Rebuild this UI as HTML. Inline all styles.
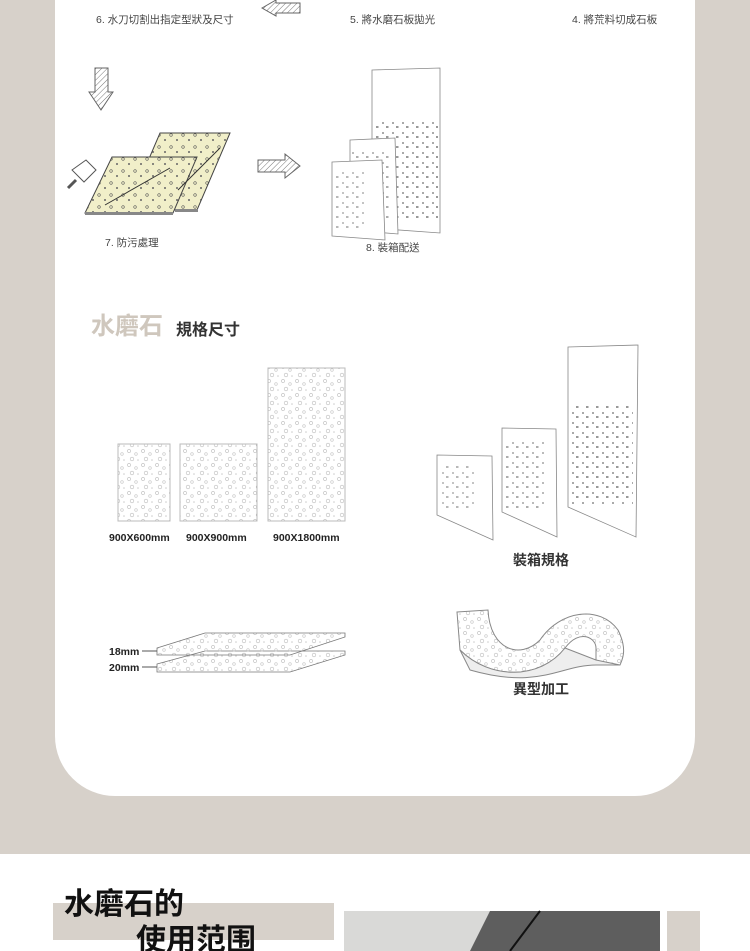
<!DOCTYPE html>
<html><head><meta charset="utf-8"><style>
html,body{margin:0;padding:0;}
body{width:750px;height:951px;position:relative;overflow:hidden;background:#d7d1ca;font-family:"Liberation Sans","Noto Sans CJK TC",sans-serif;}
svg{position:absolute;left:0;top:0}
</style></head><body>
<svg width="750" height="951" viewBox="0 0 750 951" xmlns="http://www.w3.org/2000/svg" font-family="Liberation Sans, Noto Sans CJK TC, sans-serif">
<defs>
<pattern id="tz" width="14" height="14" patternUnits="userSpaceOnUse">
<circle cx="3" cy="3" r="1.6" fill="none" stroke="#bbb" stroke-width="0.6"/>
<circle cx="10" cy="6" r="1.3" fill="none" stroke="#c4c4c4" stroke-width="0.6"/>
<circle cx="6" cy="11" r="1.8" fill="none" stroke="#bbb" stroke-width="0.6"/>
<circle cx="12" cy="12" r="0.8" fill="#ccc"/>
</pattern>
<pattern id="yz" width="12" height="12" patternUnits="userSpaceOnUse">
<rect width="12" height="12" fill="#f1efc9"/>
<circle cx="3" cy="3" r="1.3" fill="none" stroke="#555" stroke-width="0.6"/>
<circle cx="9" cy="8" r="1" fill="#666"/>
</pattern>
<pattern id="cz" width="10" height="10" patternUnits="userSpaceOnUse">
<rect x="2" y="2" width="2" height="2" fill="#aaa"/>
<rect x="6" y="6" width="2.5" height="2" fill="#999"/>
</pattern>
<pattern id="hz" width="4" height="4" patternUnits="userSpaceOnUse" patternTransform="rotate(45)">
<rect width="4" height="4" fill="#fff"/><line x1="0" y1="0" x2="0" y2="4" stroke="#777" stroke-width="1"/>
</pattern>
</defs>
<path d="M55 0 H695 V736 A60 60 0 0 1 635 796 H115 A60 60 0 0 1 55 736 Z" fill="#fff"/>
<rect x="0" y="854" width="750" height="97" fill="#fff"/>

<g font-size="10.5" fill="#444">
<text x="96" y="23">6. 水刀切割出指定型狀及尺寸</text>
<text x="350" y="23">5. 將水磨石板拋光</text>
<text x="572" y="23">4. 將荒料切成石板</text>
</g>
<path d="M262 8 L276 0 L276 3 L300 3 L300 13 L276 13 L276 16 Z" fill="url(#hz)" stroke="#666"/>
<path d="M95 68 H108 V92 H113 L101 110 L89 92 H95 Z" fill="url(#hz)" stroke="#666"/>
<!-- yellow slabs -->
<path d="M160 133 L230 133 L197 210 L127 210 Z" fill="url(#yz)" stroke="#444"/>
<rect x="175" y="209" width="23" height="3" fill="#888"/>
<path d="M112 157 L197 157 L173 213 L85 213 Z" fill="url(#yz)" stroke="#444"/>
<rect x="85" y="212" width="88" height="3" fill="#888"/>
<line x1="105" y1="205" x2="170" y2="168" stroke="#333"/>
<line x1="178" y1="190" x2="220" y2="148" stroke="#333"/>
<!-- brush -->
<path d="M72 170 L86 160 L96 170 L84 182 Z" fill="#fff" stroke="#555"/>
<path d="M76 180 L68 188" stroke="#555" stroke-width="3"/>
<path d="M258 160 H285 V154 L300 166 L285 178 V172 H258 Z" fill="url(#hz)" stroke="#666"/>
<g stroke="#888" stroke-width="0.8">
<path d="M372 70 L440 68 L440 233 L372 228 Z" fill="#fff"/>
<rect x="374" y="120" width="64" height="100" fill="url(#cz)" stroke="none"/>
<path d="M350 140 L395 138 L398 234 L350 230 Z" fill="#fff"/>
<rect x="352" y="150" width="40" height="75" fill="url(#cz)" stroke="none" opacity="0.8"/>
<path d="M332 162 L382 160 L385 240 L332 236 Z" fill="#fff"/>
<rect x="334" y="170" width="30" height="60" fill="url(#cz)" stroke="none" opacity="0.7"/>
</g>
<g font-size="10.5" fill="#444">
<text x="105" y="246">7. 防污處理</text>
<text x="366" y="251">8. 裝箱配送</text>
</g>

<text x="91" y="334" font-size="24" font-weight="bold" fill="#cfc7bd">水磨石</text>
<text x="176" y="335" font-size="16" font-weight="bold" fill="#333">規格尺寸</text>
<g stroke="#bbb" stroke-width="1" fill="url(#tz)">
<rect x="118" y="444" width="52" height="77"/>
<rect x="180" y="444" width="77" height="77"/>
<rect x="268" y="368" width="77" height="153"/>
</g>
<g font-size="10.5" font-weight="bold" fill="#222">
<text x="109" y="541">900X600mm</text>
<text x="186" y="541">900X900mm</text>
<text x="273" y="541">900X1800mm</text>
</g>
<g stroke="#888" stroke-width="0.8">
<path d="M568 347 L638 345 L636 537 L568 507 Z" fill="#fff"/>
<rect x="571" y="405" width="62" height="100" fill="url(#cz)" stroke="none"/>
<path d="M502 428 L556 429 L557 537 L502 512 Z" fill="#fff"/>
<rect x="505" y="440" width="40" height="70" fill="url(#cz)" stroke="none" opacity="0.8"/>
<path d="M437 455 L492 456 L493 540 L437 515 Z" fill="#fff"/>
<rect x="440" y="465" width="35" height="45" fill="url(#cz)" stroke="none" opacity="0.7"/>
</g>
<text x="513" y="565" font-size="14" font-weight="bold" fill="#333">裝箱規格</text>

<g stroke="#777" stroke-width="0.8">
<path d="M157 664 L205 651 L345 651 L345 655 L290 672 L157 672 Z" fill="url(#tz)"/>
<path d="M157 648 L205 633 L345 633 L345 637 L290 655 L157 655 Z" fill="url(#tz)"/>
</g>
<g font-size="10.5" font-weight="bold" fill="#222">
<text x="109" y="655">18mm</text>
<text x="109" y="671">20mm</text>
</g>
<line x1="142" y1="651" x2="157" y2="651" stroke="#555"/>
<line x1="142" y1="667" x2="157" y2="667" stroke="#555"/>
<path d="M457 612 L488 610 C490 650 520 660 540 640 C560 610 600 605 618 630 C628 650 622 660 620 665 L596 665 L596 648 C596 638 580 628 565 648 C540 680 490 680 460 650 Z" fill="url(#tz)" stroke="#888"/>
<path d="M460 650 C490 680 540 680 565 648 L596 660 L620 665 L596 665 C560 665 540 690 470 670 Z" fill="#eee" stroke="#888"/>
<text x="513" y="694" font-size="14" font-weight="bold" fill="#333">異型加工</text>

<rect x="53" y="903" width="281" height="37" fill="#d7d1ca"/>
<text x="64" y="914" font-size="30" font-weight="bold" fill="#111">水磨石的</text>
<text x="136" y="950" font-size="30" font-weight="bold" fill="#111">使用范围</text>
<rect x="344" y="911" width="316" height="40" fill="#d9d9d7"/>
<path d="M490 911 H660 V951 H470 Z" fill="#5e5e5e"/>
<line x1="540" y1="911" x2="510" y2="951" stroke="#111" stroke-width="2"/>
<rect x="667" y="911" width="33" height="40" fill="#d7d1ca"/>
</svg>
</body></html>
